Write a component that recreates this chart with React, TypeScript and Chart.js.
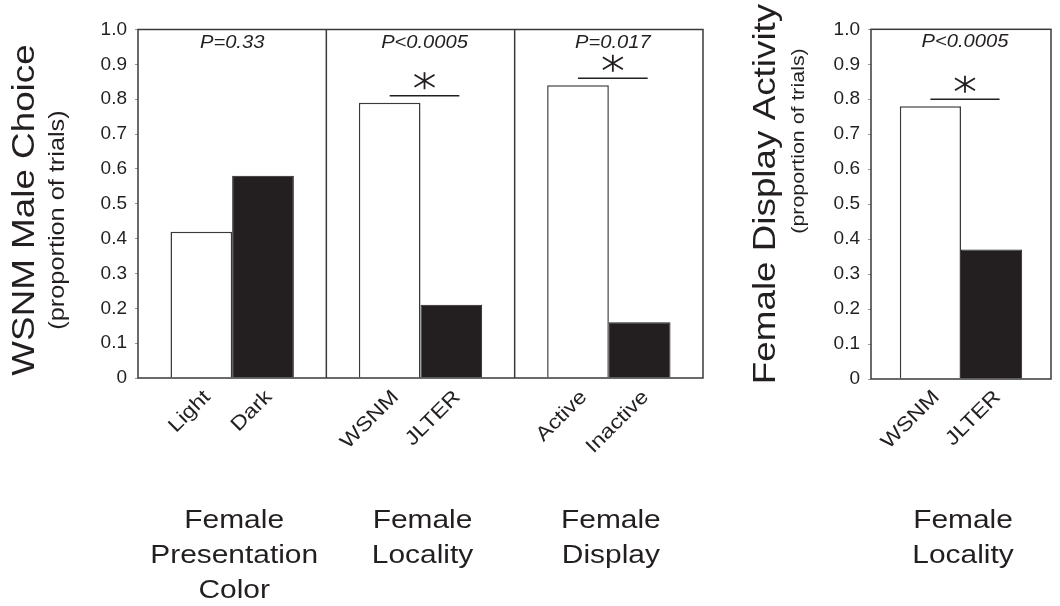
import React, { useEffect, useRef } from "react";
import { Chart, registerables } from "chart.js";

Chart.register(...registerables);

// ---------- data ----------
const yTickLabels = ["0", "0.1", "0.2", "0.3", "0.4", "0.5", "0.6", "0.7", "0.8", "0.9", "1.0"];

const leftGroupTitles = [["Female", "Presentation", "Color"], ["Female", "Locality"], ["Female", "Display"]];
const leftWhiteLabels = ["Light", "WSNM", "Active"];
const leftBlackLabels = ["Dark", "JLTER", "Inactive"];
const leftWhiteValues = [0.42, 0.79, 0.84];
const leftBlackValues = [0.58, 0.21, 0.16];
const leftPLabels = ["P=0.33", "P<0.0005", "P=0.017"];
const leftSignificant = [false, true, true];
const leftAxisTitle = "WSNM Male Choice";

const rightGroupTitles = [["Female", "Locality"]];
const rightWhiteLabels = ["WSNM"];
const rightBlackLabels = ["JLTER"];
const rightWhiteValues = [0.78];
const rightBlackValues = [0.37];
const rightPLabels = ["P<0.0005"];
const rightSignificant = [true];
const rightAxisTitle = "Female Display Activity";

const axisSubtitle = "(proportion of trials)";

// ---------- style ----------
const FONT = "'Liberation Sans', Arial, Helvetica, sans-serif";
const INK = "#231f20";
const FRAME = "#3a3a3a";
const STRETCH = 1.15;

type Panel = {
  groupTitles: string[][];
  whiteLabels: string[];
  blackLabels: string[];
  whiteValues: number[];
  blackValues: number[];
  pLabels: string[];
  significant: boolean[];
  title: string;
  // layout
  width: number;
  left: number;
  axisWidth: number;
  padTop: number;
  padRight: number;
  padBottom: number;
  catPct: number;
  titleX: number;
  titleY: number;
  titleSize: number;
  subX: number;
  subY: number;
  subSize: number;
};

function drawText(
  ctx: CanvasRenderingContext2D,
  text: string,
  x: number,
  y: number,
  size: number,
  opts: { rot?: number; align?: CanvasTextAlign; baseline?: CanvasTextBaseline; italic?: boolean; stretch?: number } = {}
) {
  ctx.save();
  ctx.translate(x, y);
  ctx.rotate(opts.rot || 0);
  ctx.scale(opts.stretch ?? STRETCH, 1);
  ctx.font = `${opts.italic ? "italic " : ""}${size}px ${FONT}`;
  ctx.fillStyle = INK;
  ctx.textAlign = opts.align || "center";
  ctx.textBaseline = opts.baseline || "alphabetic";
  ctx.fillText(text, 0, 0);
  ctx.restore();
}

function line(ctx: CanvasRenderingContext2D, x1: number, y1: number, x2: number, y2: number) {
  ctx.beginPath();
  ctx.moveTo(x1, y1);
  ctx.lineTo(x2, y2);
  ctx.stroke();
}

function makePlugin(p: Panel) {
  return {
    id: "panelDecor",
    afterDraw(chart: any) {
      const ctx: CanvasRenderingContext2D = chart.ctx;
      const a = chart.chartArea;
      const y = chart.scales.y;
      const n = p.whiteValues.length;

      // frame and dividers
      ctx.save();
      ctx.strokeStyle = FRAME;
      ctx.lineWidth = 1.5;
      ctx.strokeRect(a.left, a.top, a.right - a.left, a.bottom - a.top);
      for (let i = 1; i < n; i++) {
        const xx = a.left + ((a.right - a.left) * i) / n;
        line(ctx, xx, a.top, xx, a.bottom);
      }
      ctx.restore();

      const m0 = chart.getDatasetMeta(0).data;
      const m1 = chart.getDatasetMeta(1).data;
      for (let i = 0; i < n; i++) {
        const wx = m0[i].x;
        const bx = m1[i].x;
        const bw = m0[i].width;
        const boundary = (wx + bx) / 2;
        let pCenter = boundary;

        if (p.significant[i]) {
          const top = Math.max(p.whiteValues[i], p.blackValues[i]) + 0.02;
          const ly = y.getPixelForValue(top);
          const x1 = wx;
          const x2 = bx + 0.13 * bw;
          const cx = (x1 + x2) / 2;
          pCenter = cx;
          ctx.save();
          ctx.strokeStyle = INK;
          ctx.lineWidth = 1.6;
          line(ctx, x1, ly, x2, ly);
          // asterisk
          const ay = ly - 15;
          ctx.lineWidth = 1.8;
          line(ctx, cx, ay - 8.5, cx, ay + 8.5);
          line(ctx, cx - 10, ay - 6, cx + 10, ay + 6);
          line(ctx, cx - 10, ay + 6, cx + 10, ay - 6);
          ctx.restore();
        }

        drawText(ctx, p.pLabels[i], pCenter, a.top + 18, 17.5, { italic: true });

        // rotated bar labels
        drawText(ctx, p.whiteLabels[i], wx + 6, 394, 20, { rot: -Math.PI / 4, align: "right", baseline: "middle" });
        drawText(ctx, p.blackLabels[i], bx + 6, 394, 20, { rot: -Math.PI / 4, align: "right", baseline: "middle" });

        // group titles
        const lines = p.groupTitles[i];
        lines.forEach((t, k) => {
          drawText(ctx, t, boundary + 2, 528 + k * 35, 26);
        });
      }

      // axis titles
      drawText(ctx, p.title, p.titleX, p.titleY, p.titleSize, { rot: -Math.PI / 2 });
      drawText(ctx, axisSubtitle, p.subX, p.subY, p.subSize, { rot: -Math.PI / 2 });
    },
  };
}

function makeChart(canvas: HTMLCanvasElement, p: Panel) {
  return new Chart(canvas, {
    type: "bar",
    data: {
      labels: p.groupTitles.map((g) => g.join(" ")),
      datasets: [
        {
          label: "white",
          data: p.whiteValues,
          backgroundColor: "#ffffff",
          borderColor: FRAME,
          borderWidth: 1.5,
          borderSkipped: "bottom",
        },
        {
          label: "black",
          data: p.blackValues,
          backgroundColor: INK,
          borderColor: INK,
          borderWidth: 1,
          borderSkipped: "bottom",
        },
      ],
    },
    options: {
      responsive: false,
      animation: false,
      events: [],
      datasets: { bar: { categoryPercentage: p.catPct, barPercentage: 1 } },
      layout: { padding: { left: 0, top: p.padTop, right: p.padRight, bottom: p.padBottom } },
      plugins: { legend: { display: false }, tooltip: { enabled: false }, title: { display: false } },
      scales: {
        x: {
          type: "category",
          grid: { display: false },
          border: { display: false },
          ticks: { display: false },
          afterFit: (s: any) => {
            s.height = 0;
          },
        },
        y: {
          min: 0,
          max: 1,
          grid: { display: true, drawOnChartArea: false, drawTicks: true, tickLength: 3, color: "#9a9a9a" },
          border: { display: false },
          ticks: {
            stepSize: 0.1,
            padding: 8,
            color: INK,
            font: { family: FONT, size: 19 },
            callback: (_v: any, i: number) => yTickLabels[i],
          },
          afterFit: (s: any) => {
            s.width = p.axisWidth;
          },
        },
      },
    },
    plugins: [makePlugin(p)],
  } as any);
}

const leftPanel: Panel = {
  groupTitles: leftGroupTitles,
  whiteLabels: leftWhiteLabels,
  blackLabels: leftBlackLabels,
  whiteValues: leftWhiteValues,
  blackValues: leftBlackValues,
  pLabels: leftPLabels,
  significant: leftSignificant,
  title: leftAxisTitle,
  width: 720,
  left: 0,
  axisWidth: 138,
  padTop: 29.5,
  padRight: 17,
  padBottom: 228,
  catPct: 0.655,
  titleX: 34,
  titleY: 210,
  titleSize: 32,
  subX: 64,
  subY: 220,
  subSize: 22,
};

const rightPanel: Panel = {
  groupTitles: rightGroupTitles,
  whiteLabels: rightWhiteLabels,
  blackLabels: rightBlackLabels,
  whiteValues: rightWhiteValues,
  blackValues: rightBlackValues,
  pLabels: rightPLabels,
  significant: rightSignificant,
  title: rightAxisTitle,
  width: 340,
  left: 720,
  axisWidth: 151,
  padTop: 29.3,
  padRight: 9,
  padBottom: 227,
  catPct: 0.68,
  titleX: 775 - 720,
  titleY: 194,
  titleSize: 32,
  subX: 804 - 720,
  subY: 141,
  subSize: 18.6,
};

function PanelCanvas({ panel }: { panel: Panel }) {
  const ref = useRef<HTMLCanvasElement>(null);
  useEffect(() => {
    if (!ref.current) return;
    const c = makeChart(ref.current, panel);
    return () => c.destroy();
  }, [panel]);
  return (
    <canvas
      ref={ref}
      width={panel.width}
      height={606}
      style={{ position: "absolute", left: panel.left, top: 0, width: panel.width, height: 606 }}
    />
  );
}

export default function App() {
  return (
    <div style={{ position: "absolute", left: 0, top: 0, width: 1060, height: 606, background: "#fff" }}>
      <PanelCanvas panel={leftPanel} />
      <PanelCanvas panel={rightPanel} />
    </div>
  );
}
